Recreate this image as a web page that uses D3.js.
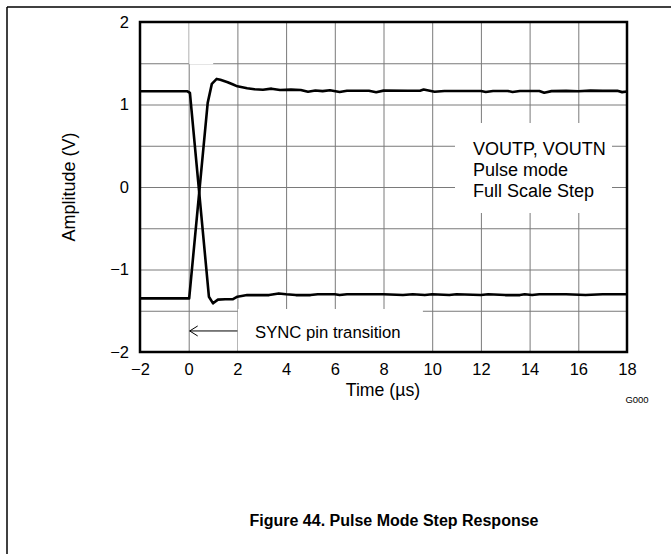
<!DOCTYPE html>
<html>
<head>
<meta charset="utf-8">
<script src="https://cdn.jsdelivr.net/npm/d3@7"></script>
<style>
  body { margin: 0; background: #fff; }
  svg { font-family: "Liberation Sans", Arial, sans-serif; }
</style>
</head>
<body>
<svg width="671" height="554"></svg>
<script>
// x ticks (µs) and y ticks (V)
var xTicks = [-2, 0, 2, 4, 6, 8, 10, 12, 14, 16, 18];
var yTicks = [-2, -1, 0, 1, 2];

// rising output (starts low, settles high)
var timeP = [-2, -0.3, 0.02, 0.78, 0.95, 1.15, 1.3, 1.6, 1.8, 2.0, 2.4, 2.7, 3.05, 3.4, 3.75, 4.2, 4.6, 4.9, 5.2, 5.5, 5.8, 6.2, 6.5, 7.4, 7.7, 8.0, 9.0, 9.5, 9.65, 10.1, 10.5, 12.0, 12.2, 12.5, 13.1, 13.3, 13.6, 14.4, 14.6, 14.9, 15.5, 16.0, 16.5, 17.0, 17.6, 17.8, 18];
var voutP = [-1.35, -1.35, -1.35, 1.02, 1.25, 1.31, 1.30, 1.27, 1.245, 1.22, 1.196, 1.185, 1.178, 1.192, 1.175, 1.18, 1.176, 1.155, 1.17, 1.162, 1.172, 1.152, 1.167, 1.167, 1.148, 1.168, 1.167, 1.167, 1.182, 1.155, 1.164, 1.164, 1.152, 1.164, 1.164, 1.152, 1.164, 1.164, 1.143, 1.162, 1.165, 1.16, 1.168, 1.165, 1.166, 1.15, 1.158];

// falling output (starts high, settles low)
var timeN = [-2, -0.05, 0.05, 0.83, 1.0, 1.2, 1.5, 1.82, 2.0, 2.4, 3.3, 3.7, 4.0, 4.4, 5.0, 5.3, 6.0, 6.2, 6.5, 7.5, 8.0, 8.8, 9.2, 9.7, 10.0, 10.7, 11.0, 12.0, 12.3, 13.0, 13.6, 13.8, 14.1, 14.4, 15.5, 16.3, 17.0, 18];
var voutN = [1.16, 1.16, 1.14, -1.33, -1.41, -1.365, -1.36, -1.36, -1.33, -1.31, -1.31, -1.29, -1.30, -1.31, -1.31, -1.30, -1.30, -1.31, -1.30, -1.30, -1.30, -1.31, -1.30, -1.31, -1.30, -1.31, -1.30, -1.31, -1.30, -1.31, -1.31, -1.30, -1.31, -1.30, -1.30, -1.31, -1.30, -1.30];

var noteLines = ["VOUTP, VOUTN", "Pulse mode", "Full Scale Step"];

var svg = d3.select("svg"),
    margin = {top: 22, right: 44, bottom: 202, left: 140},
    width = 671 - margin.left - margin.right,
    height = 554 - margin.top - margin.bottom;

var x = d3.scaleLinear().domain([-2, 18]).range([0, width]);
var y = d3.scaleLinear().domain([-2, 2]).range([height, 0]);

// page frame
svg.append("line").attr("x1", 7).attr("y1", 7).attr("x2", 671).attr("y2", 7)
    .attr("stroke", "#000").attr("stroke-width", 1.5);
svg.append("line").attr("x1", 7).attr("y1", 7).attr("x2", 7).attr("y2", 554)
    .attr("stroke", "#000").attr("stroke-width", 1.5);

var g = svg.append("g")
    .attr("transform", "translate(" + margin.left + "," + margin.top + ")");

// grid: every 2 µs, every 0.5 V
g.append("g")
    .attr("class", "grid")
    .call(d3.axisBottom(x).tickValues(d3.range(-2, 19, 2)).tickSize(height).tickFormat(""))
    .call(function(s) { s.select(".domain").remove(); })
    .selectAll("line").attr("stroke", "#7a7a7a");

g.append("g")
    .attr("class", "grid")
    .call(d3.axisLeft(y).tickValues(d3.range(-2, 2.01, 0.5)).tickSize(-width).tickFormat(""))
    .call(function(s) { s.select(".domain").remove(); })
    .selectAll("line").attr("stroke", "#7a7a7a");

// white patches behind annotations
g.append("rect").attr("x", x(0) + 0.5).attr("y", 0).attr("width", 24).attr("height", y(1.5) + 1)
    .attr("fill", "#fff");
g.append("line").attr("x1", x(0)).attr("x2", x(0)).attr("y1", 0).attr("y2", y(1.5))
    .attr("stroke", "#c8c8c8");
g.append("rect").attr("x", 315).attr("y", 101).attr("width", 157).attr("height", 90)
    .attr("fill", "#fff");
g.append("rect").attr("x", x(2) + 0.5).attr("y", 287).attr("width", 185).attr("height", height - 287)
    .attr("fill", "#fff");

// traces
var line = d3.line()
    .x(function(d) { return x(d[0]); })
    .y(function(d) { return y(d[1]); });

[[timeP, voutP], [timeN, voutN]].forEach(function(s) {
  g.append("path")
      .datum(d3.zip(s[0], s[1]))
      .attr("fill", "none")
      .attr("stroke", "#000")
      .attr("stroke-width", 2.6)
      .attr("stroke-linejoin", "round")
      .attr("d", line);
});

// plot border
g.append("rect").attr("x", 0).attr("y", 0).attr("width", width).attr("height", height)
    .attr("fill", "none").attr("stroke", "#000").attr("stroke-width", 2.5);

// tick labels
var fmt = function(d) { return d < 0 ? "\u2212" + Math.abs(d) : "" + d; };

g.append("g")
    .attr("transform", "translate(0," + height + ")")
    .call(d3.axisBottom(x).tickValues(xTicks).tickSize(0).tickPadding(11).tickFormat(fmt))
    .call(function(s) { s.select(".domain").remove(); })
    .selectAll("text").attr("font-size", 16.5).attr("fill", "#000")
    .attr("font-family", "Liberation Sans, Arial, sans-serif");

g.append("g")
    .call(d3.axisLeft(y).tickValues(yTicks).tickSize(0).tickPadding(11).tickFormat(fmt))
    .call(function(s) { s.select(".domain").remove(); })
    .selectAll("text").attr("font-size", 16.5).attr("fill", "#000")
    .attr("font-family", "Liberation Sans, Arial, sans-serif");

// axis titles
g.append("text")
    .attr("x", 243).attr("y", height + 44)
    .attr("text-anchor", "middle").attr("font-size", 17.7)
    .text("Time (\u00b5s)");

g.append("text")
    .attr("transform", "translate(-65," + (height / 2) + ") rotate(-90)")
    .attr("text-anchor", "middle").attr("font-size", 18)
    .text("Amplitude (V)");

// note box text
g.selectAll(".note")
    .data(noteLines)
  .enter().append("text")
    .attr("class", "note")
    .attr("x", 333)
    .attr("y", function(d, i) { return 133 + i * 21; })
    .attr("font-size", 18)
    .text(function(d) { return d; });

// SYNC arrow
var ay = y(-1.745);
g.append("line").attr("x1", x(2)).attr("x2", x(0) + 1).attr("y1", ay).attr("y2", ay)
    .attr("stroke", "#000").attr("stroke-width", 1);
g.append("path")
    .attr("d", "M" + (x(0) + 9) + "," + (ay - 5) + "L" + (x(0) + 1) + "," + ay + "L" + (x(0) + 9) + "," + (ay + 5))
    .attr("fill", "none").attr("stroke", "#000").attr("stroke-width", 1);
g.append("text")
    .attr("x", 115).attr("y", ay + 7)
    .attr("font-size", 16.7)
    .text("SYNC pin transition");

// figure id and caption
svg.append("text").attr("x", 637).attr("y", 403)
    .attr("text-anchor", "middle").attr("font-size", 9.5)
    .text("G000");

svg.append("text").attr("x", 394).attr("y", 526)
    .attr("text-anchor", "middle").attr("font-size", 16).attr("font-weight", "bold")
    .text("Figure 44. Pulse Mode Step Response");
</script>
</body>
</html>
